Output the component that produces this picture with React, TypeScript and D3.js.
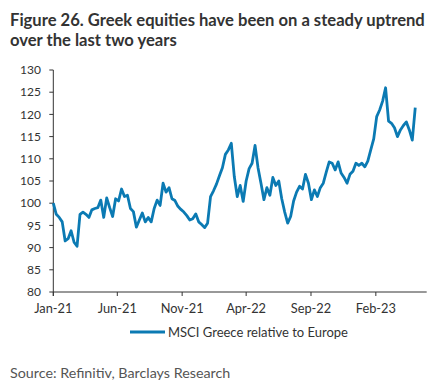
import React from "react";
import * as d3 from "d3";

const startDate = "2021-01-01";
const values: number[] = [
  100.0, 97.5, 96.8, 95.8, 91.5, 92.0, 93.8, 91.2, 90.3, 97.5,
  98.0, 97.5, 96.8, 98.5, 98.8, 99.0, 100.7, 96.8, 101.2, 99.0,
  97.0, 101.0, 100.5, 103.2, 101.5, 101.8, 98.8, 98.1, 94.6, 96.2,
  97.8, 95.8, 96.8, 95.8, 98.8, 100.7, 99.5, 104.5, 102.5, 103.5,
  101.0, 100.6, 99.3, 98.6, 98.0, 97.2, 96.2, 96.5, 97.6, 95.8,
  95.2, 94.5, 95.5, 101.5, 102.8, 104.3, 106.2, 108.0, 111.0, 112.0,
  113.5, 106.0, 101.5, 104.0, 100.4, 105.0, 107.8, 109.0, 113.0, 108.0,
  104.5, 100.8, 103.5, 101.8, 105.8, 104.0, 105.0, 101.0, 98.0, 95.5,
  97.0, 100.5, 102.5, 103.8, 103.2, 106.5, 104.5, 100.8, 103.0, 101.5,
  103.5, 104.5, 107.0, 109.3, 109.0, 107.5, 109.3, 106.8, 105.8, 104.5,
  106.5, 107.2, 109.0, 108.5, 109.0, 108.2, 109.5, 112.0, 114.5, 119.5,
  121.0, 123.0, 126.0, 118.5, 118.0, 117.0, 115.0, 116.5, 117.5, 118.3,
  116.5, 114.2, 121.5,
];
const yTicks = [80, 85, 90, 95, 100, 105, 110, 115, 120, 125, 130];
const xTickDates = ["2021-01-01", "2021-06-01", "2021-11-01", "2022-04-01", "2022-09-01", "2023-02-01"];
const xTickLabels = ["Jan-21", "Jun-21", "Nov-21", "Apr-22", "Sep-22", "Feb-23"];
const seriesName = "MSCI Greece relative to Europe";
const titleLines = ["Figure 26. Greek equities have been on a steady uptrend", "over the last two years"];
const sourceText = "Source: Refinitiv, Barclays Research";

const parse = d3.timeParse("%Y-%m-%d");

export default function App() {
  const W = 440, H = 391;
  const left = 53.3, right = 426.7, top = 70, bottom = 292;
  const x = d3.scaleTime()
    .domain([parse("2021-01-01")!, parse("2023-06-01")!])
    .range([left, right]);
  const y = d3.scaleLinear().domain([80, 130]).range([bottom, top]);
  const start = parse(startDate)!;
  const data = values.map((v, i) => ({ d: d3.timeDay.offset(start, i * 7), v }));
  const line = d3.line<{ d: Date; v: number }>()
    .x((p) => x(p.d))
    .y((p) => y(p.v));
  const blue = "#0b7ab3";
  const axisColor = "#333";
  const font = "Lato, 'Open Sans', sans-serif";

  return (
    <svg width={W} height={H} style={{ position: "absolute", left: 0, top: 0, background: "#fff" }}>
      <rect width={W} height={H} fill="#fff" />
      {titleLines.map((t, i) => (
        <text key={i} x={10} y={26 + i * 20} fontFamily={font} fontWeight={700} fontSize={16.6} fill="#333">
          {t}
        </text>
      ))}
      {/* y axis */}
      <line x1={left} x2={left} y1={top} y2={bottom + 4} stroke={axisColor} strokeWidth={1} />
      {yTicks.map((t) => (
        <g key={t}>
          <line x1={left - 4} x2={left} y1={y(t)} y2={y(t)} stroke={axisColor} />
          <text x={41} y={y(t)} dy="0.35em" textAnchor="end" fontFamily={font} fontSize={12} fill="#333">
            {t}
          </text>
        </g>
      ))}
      {/* x axis */}
      <line x1={left} x2={right} y1={bottom} y2={bottom} stroke={axisColor} strokeWidth={1} />
      {xTickDates.map((s, i) => {
        const xx = x(parse(s)!);
        return (
          <g key={s}>
            <line x1={xx} x2={xx} y1={bottom} y2={bottom + 4} stroke={axisColor} />
            <text x={xx} y={313} textAnchor="middle" fontFamily={font} fontSize={12.8} fill="#333">
              {xTickLabels[i]}
            </text>
          </g>
        );
      })}
      <path d={line(data) || ""} fill="none" stroke={blue} strokeWidth={2.8} strokeLinejoin="round" />
      {/* legend */}
      <line x1={130} x2={165} y1={332} y2={332} stroke={blue} strokeWidth={3} />
      <text x={168} y={336.5} fontFamily={font} fontSize={13} fill="#333">
        {seriesName}
      </text>
      <text x={10} y={378} fontFamily={font} fontSize={14.3} fill="#555">
        {sourceText}
      </text>
    </svg>
  );
}
